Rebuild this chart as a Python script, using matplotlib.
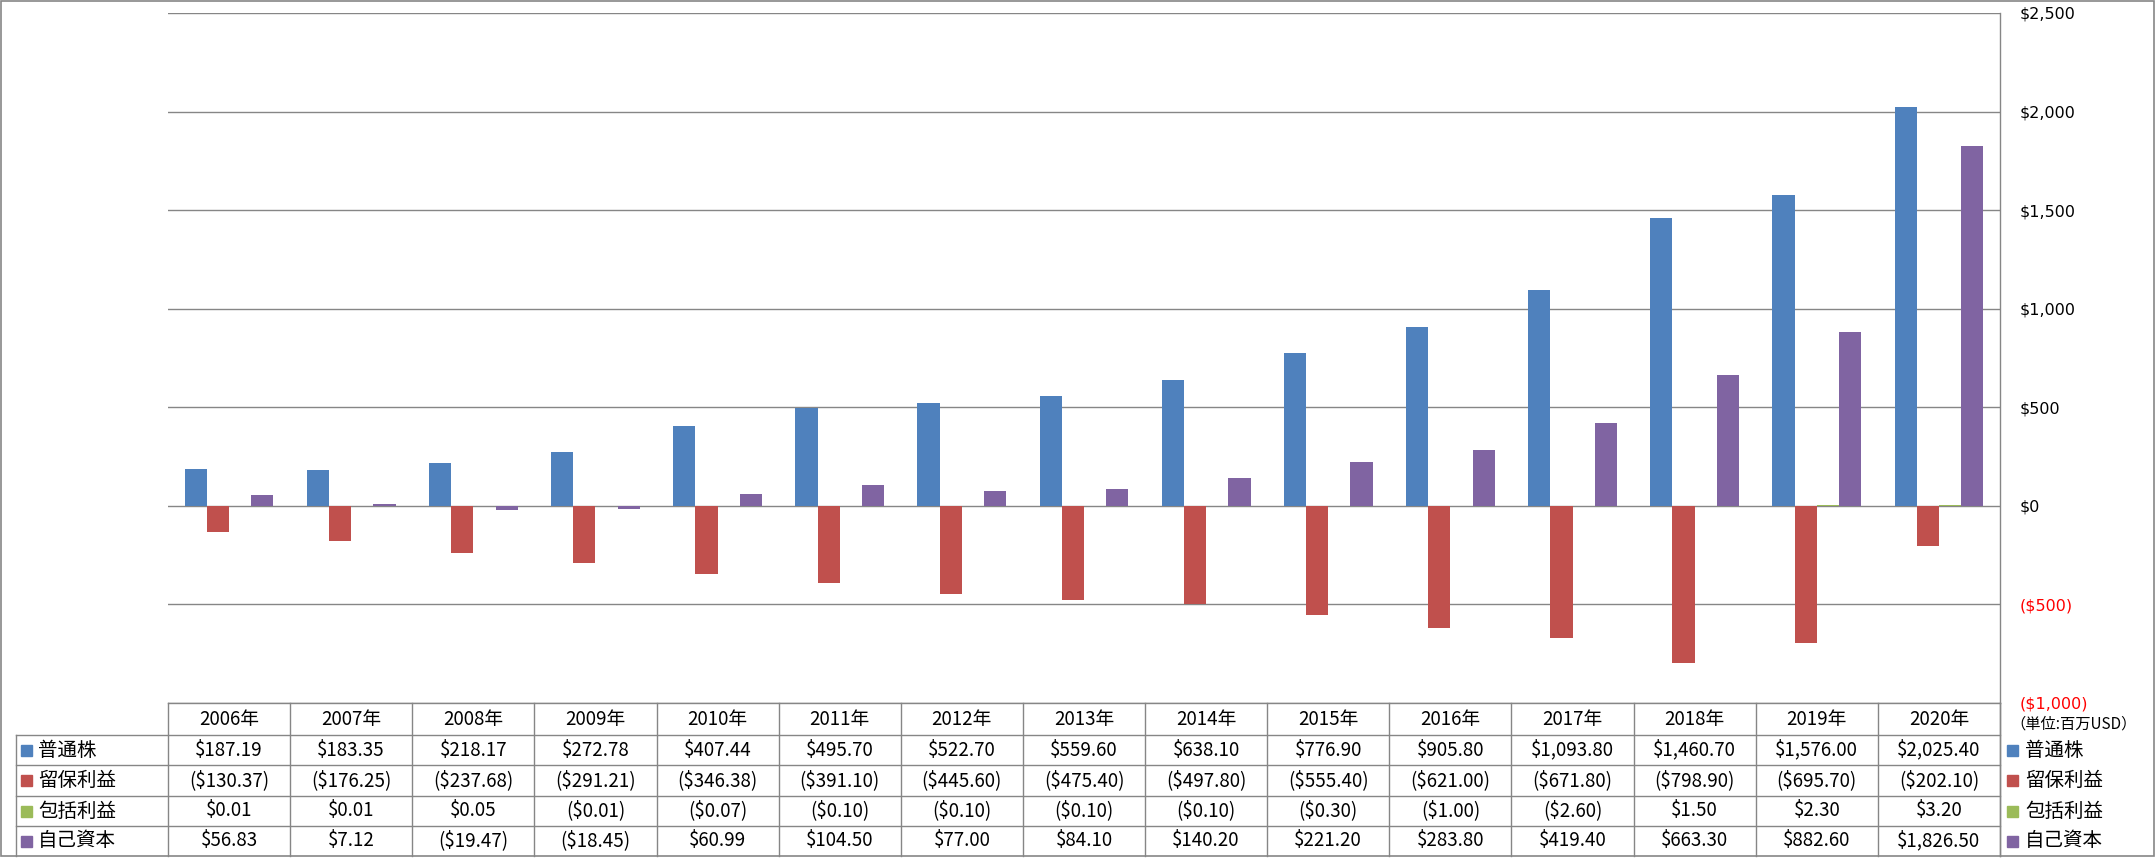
import matplotlib
matplotlib.use("Agg")
import numpy as np
import matplotlib.pyplot as plt
from matplotlib.patches import Rectangle

plt.rcParams['font.family'] = ['Noto Sans CJK JP', 'DejaVu Sans']

# data (millions USD)
years = ['2006年', '2007年', '2008年', '2009年', '2010年', '2011年', '2012年', '2013年',
         '2014年', '2015年', '2016年', '2017年', '2018年', '2019年', '2020年']
series_names = ['普通株', '留保利益', '包括利益', '自己資本']
common_stock = [187.19, 183.35, 218.17, 272.78, 407.44, 495.70, 522.70, 559.60,
                638.10, 776.90, 905.80, 1093.80, 1460.70, 1576.00, 2025.40]
retained = [-130.37, -176.25, -237.68, -291.21, -346.38, -391.10, -445.60, -475.40,
            -497.80, -555.40, -621.00, -671.80, -798.90, -695.70, -202.10]
comprehensive = [0.01, 0.01, 0.05, -0.01, -0.07, -0.10, -0.10, -0.10,
                 -0.10, -0.30, -1.00, -2.60, 1.50, 2.30, 3.20]
equity = [56.83, 7.12, -19.47, -18.45, 60.99, 104.50, 77.00, 84.10,
          140.20, 221.20, 283.80, 419.40, 663.30, 882.60, 1826.50]
colors = ['#4F81BD', '#C0504D', '#9BBB59', '#8064A2']
y_ticks = [-1000, -500, 0, 500, 1000, 1500, 2000, 2500]


def money(v, decimals=2):
    s = f"${abs(v):,.{decimals}f}"
    return f"({s})" if v < 0 else s


W, H = 2156, 858
fig = plt.figure(figsize=(W / 100, H / 100), dpi=100)
grey = '#868686'

# plot area in pixels
px0, px1, py0, py1 = 168, 2000, 13, 703
ax = fig.add_axes([px0 / W, 1 - py1 / H, (px1 - px0) / W, (py1 - py0) / H])

series = [common_stock, retained, comprehensive, equity]
x = np.arange(len(years))
bw = 1 / 5.5
for i, (vals, c) in enumerate(zip(series, colors)):
    ax.bar(x + (i - 1.5) * bw, vals, width=bw, color=c, zorder=3)

ax.set_xlim(-0.5, len(years) - 0.5)
ax.set_ylim(-1000, 2500)
ax.set_xticks([])
ax.yaxis.tick_right()
ax.set_yticks(y_ticks, [money(v, 0) for v in y_ticks])
for t, v in zip(ax.get_yticklabels(), y_ticks):
    t.set_color('#FF0000' if v < 0 else 'black')
    t.set_fontfamily('DejaVu Sans')
    t.set_fontsize(11.5)
ax.tick_params(axis='y', length=0, pad=14)
ax.grid(axis='y', color=grey, lw=1, zorder=0)
for s in ['top', 'bottom', 'left']:
    ax.spines[s].set_visible(False)
ax.spines['right'].set_color(grey)
ax.spines['right'].set_linewidth(1)

# overlay in pixel coordinates for the data table and legend
ov = fig.add_axes([0, 0, 1, 1])
ov.set_xlim(0, W)
ov.set_ylim(H, 0)
ov.axis('off')

colw = (px1 - px0) / len(years)
row_y = [703, 735, 765, 796, 826, 856]
lk = dict(color=grey, lw=1)

ov.plot([px0, px1], [row_y[0], row_y[0]], **lk)
for y in row_y[1:5]:
    ov.plot([16, px1], [y, y], **lk)
ov.plot([16, 16], [row_y[1], row_y[5]], **lk)
for k in range(len(years) + 1):
    ov.plot([px0 + k * colw] * 2, [row_y[0], row_y[5]], **lk)
ov.plot([px1, px1], [row_y[0], row_y[5]], **lk)

# outer border
ov.add_patch(Rectangle((1, 1), W - 3, H - 3, fill=False, ec=grey, lw=1.2))

for k, yr in enumerate(years):
    cx = px0 + (k + 0.5) * colw
    ov.text(cx, (row_y[0] + row_y[1]) / 2, yr, ha='center', va='center', fontsize=13.5)
    for r, vals in enumerate(series):
        ov.text(cx, (row_y[r + 1] + row_y[r + 2]) / 2, money(vals[k]),
                ha='center', va='center', fontsize=13.5)

for r, (name, c) in enumerate(zip(series_names, colors)):
    cy = (row_y[r + 1] + row_y[r + 2]) / 2
    ov.add_patch(Rectangle((21, cy - 5.5), 11, 11, color=c))
    ov.text(38, cy, name, ha='left', va='center', fontsize=14)
    ov.add_patch(Rectangle((2007, cy - 5.5), 11, 11, color=c))
    ov.text(2025, cy, name, ha='left', va='center', fontsize=14)

ov.text(2010, 724, '（単位:百万USD）', ha='left', va='center', fontsize=11)

fig.savefig('out.png', dpi=100)
